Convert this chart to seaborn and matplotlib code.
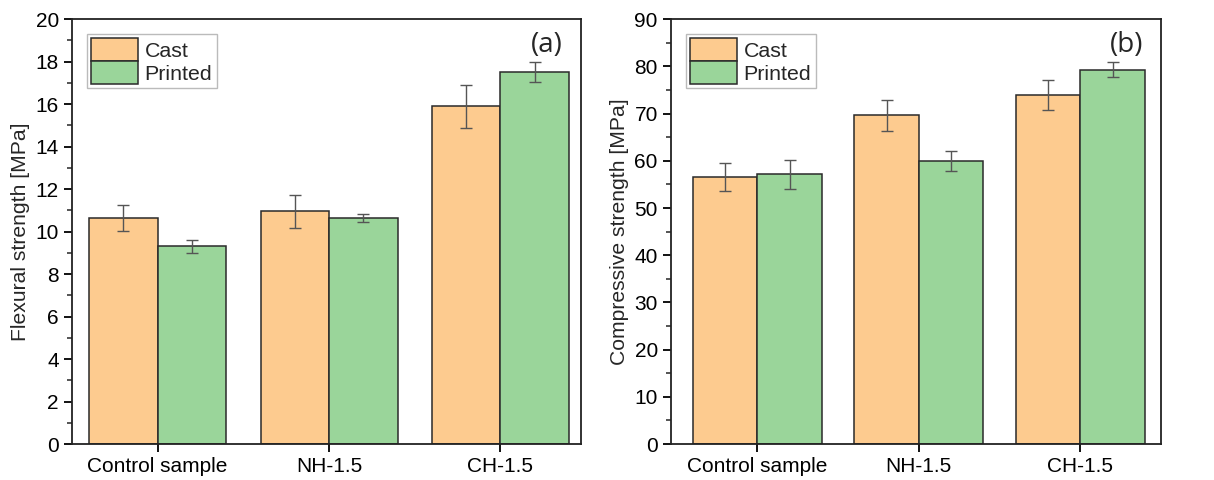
import numpy as np
import pandas as pd
import seaborn as sns
import matplotlib.pyplot as plt
from matplotlib.ticker import MultipleLocator

# data
samples = ["Control sample", "NH-1.5", "CH-1.5"]
methods = ["Cast", "Printed"]
flex_cast = [10.65, 10.96, 15.9]
flex_cast_err = [0.6, 0.78, 1.0]
flex_printed = [9.3, 10.65, 17.5]
flex_printed_err = [0.3, 0.2, 0.47]
comp_cast = [56.5, 69.6, 73.9]
comp_cast_err = [3.0, 3.2, 3.2]
comp_printed = [57.1, 60.0, 79.3]
comp_printed_err = [3.0, 2.1, 1.6]

colors = {"Cast": "#FDCB8F", "Printed": "#9AD59A"}

sns.set_theme(style="ticks")
plt.rcParams['font.family'] = ['Liberation Sans', 'DejaVu Sans']
plt.rcParams['axes.linewidth'] = 1.3


def panel(ax, cast, cast_err, printed, printed_err, ylabel, ymax, major, letter, xlim):
    df = pd.DataFrame({
        "Sample": samples * 2,
        "Method": ["Cast"] * 3 + ["Printed"] * 3,
        "Value": cast + printed,
        "Err": cast_err + printed_err,
    })
    sns.barplot(data=df, x="Sample", y="Value", hue="Method", hue_order=methods,
                palette=colors, width=0.8, edgecolor="#2a2a2a", linewidth=1.1,
                errorbar=None, saturation=1, ax=ax)
    # error bars at bar centres
    errs = cast_err + printed_err
    vals = cast + printed
    for p, v, e in zip(ax.patches[:6], vals, errs):
        ax.errorbar(p.get_x() + p.get_width() / 2, v, yerr=e, fmt="none",
                    ecolor="#555555", elinewidth=1.0, capsize=4, capthick=1.0)
    ax.set_ylim(0, ymax)
    ax.set_xlim(*xlim)
    ax.yaxis.set_major_locator(MultipleLocator(major))
    ax.yaxis.set_minor_locator(MultipleLocator(major / 2))
    ax.tick_params(axis="both", which="major", direction="out", length=6, width=1.3,
                   labelsize=15, colors="black")
    ax.tick_params(axis="y", which="minor", direction="out", length=3.5, width=1.1)
    for s in ax.spines.values():
        s.set_visible(True)
        s.set_color("#222222")
    ax.set_xlabel("")
    ax.set_ylabel(ylabel, fontsize=15.2, labelpad=4)
    ax.text(0.965, 0.972, letter, transform=ax.transAxes, ha="right", va="top",
            fontsize=20, family="Open Sans")
    leg = ax.legend(loc="upper left", fontsize=15.4, frameon=True, fancybox=False,
                    edgecolor="#aaaaaa", handlelength=2.2, handleheight=1.25,
                    handletextpad=0.3, borderpad=0.2, labelspacing=0.0,
                    borderaxespad=0.7)
    leg.get_frame().set_linewidth(1.0)


fig = plt.figure(figsize=(12.14, 4.8), dpi=100)
ax1 = fig.add_axes([0.0593, 0.075, 0.4193, 0.885])
ax2 = fig.add_axes([0.5527, 0.075, 0.4036, 0.885])

panel(ax1, flex_cast, flex_cast_err, flex_printed, flex_printed_err,
      "Flexural strength [MPa]", 20, 2, "(a)", (-0.5, 2.47))
panel(ax2, comp_cast, comp_cast_err, comp_printed, comp_printed_err,
      "Compressive strength [MPa]", 90, 10, "(b)", (-0.535, 2.5))

fig.savefig("out.png", dpi=100)
